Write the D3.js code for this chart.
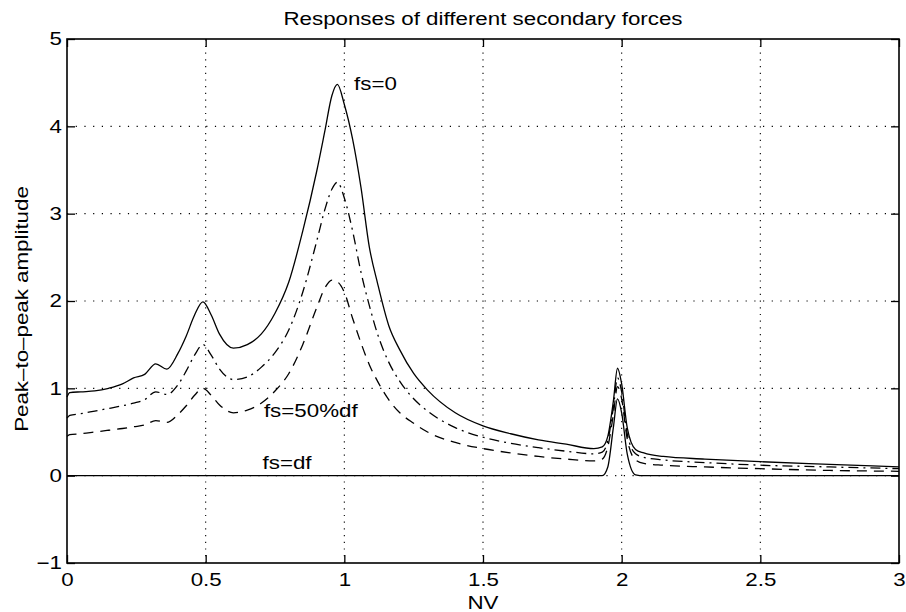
<!DOCTYPE html>
<html>
<head>
<meta charset="utf-8">
<script src="https://cdn.jsdelivr.net/npm/d3@7"></script>
<style>
  html, body { margin: 0; padding: 0; background: #fff; }
  svg text { font-family: "Liberation Sans", Arial, Helvetica, sans-serif; fill: #000; }
</style>
</head>
<body>
<svg id="chart" width="906" height="612"></svg>
<script>
// Frequency ratio samples shared by every response curve
const nv = [0, 0.01, 0.05, 0.1, 0.15, 0.2, 0.24, 0.28, 0.32, 0.36, 0.4, 0.43, 0.46, 0.49, 0.52, 0.55,
  0.6, 0.65, 0.7, 0.75, 0.8, 0.85, 0.9, 0.93, 0.955, 0.975, 1.0, 1.03, 1.06, 1.09, 1.12, 1.16, 1.2,
  1.25, 1.3, 1.4, 1.5, 1.6, 1.7, 1.8, 1.9, 1.93, 1.95, 1.97, 1.985, 2.0, 2.02, 2.05, 2.08, 2.15,
  2.3, 2.5, 2.75, 3.0];

// Peak-to-peak amplitude, fs = 0 (solid)
const ampFs0 = [0.90, 0.95, 0.96, 0.97, 1.00, 1.05, 1.12, 1.16, 1.28, 1.22, 1.40, 1.60, 1.84, 1.99, 1.84, 1.62,
  1.46, 1.50, 1.62, 1.86, 2.22, 2.80, 3.48, 3.95, 4.35, 4.48, 4.25, 3.85, 3.30, 2.62, 2.20, 1.72, 1.44,
  1.17, 0.98, 0.72, 0.57, 0.48, 0.41, 0.36, 0.31, 0.33, 0.45, 0.85, 1.23, 1.05, 0.55, 0.30, 0.26, 0.22,
  0.19, 0.16, 0.13, 0.10];

// Intermediate secondary force (dash-dot)
const ampFsMid = [0.66, 0.69, 0.71, 0.74, 0.77, 0.80, 0.83, 0.87, 0.96, 0.93, 1.04, 1.20, 1.38, 1.50, 1.38, 1.22,
  1.10, 1.13, 1.24, 1.41, 1.67, 2.10, 2.68, 3.05, 3.28, 3.36, 3.18, 2.80, 2.33, 1.95, 1.62, 1.30, 1.08,
  0.88, 0.74, 0.55, 0.44, 0.37, 0.32, 0.28, 0.25, 0.27, 0.40, 0.78, 1.12, 0.96, 0.48, 0.25, 0.21, 0.18,
  0.15, 0.12, 0.10, 0.08];

// fs = 50% df (dashed)
const ampFsHalf = [0.45, 0.47, 0.48, 0.50, 0.52, 0.54, 0.56, 0.58, 0.63, 0.61, 0.70, 0.80, 0.92, 1.00, 0.92, 0.81,
  0.72, 0.75, 0.83, 0.97, 1.17, 1.50, 1.92, 2.15, 2.24, 2.22, 2.10, 1.80, 1.52, 1.27, 1.08, 0.87, 0.72,
  0.60, 0.50, 0.38, 0.31, 0.26, 0.22, 0.19, 0.17, 0.19, 0.33, 0.70, 1.02, 0.88, 0.42, 0.18, 0.14, 0.12,
  0.10, 0.08, 0.06, 0.05];

// fs = df (solid, only the 2x response remains)
const ampFsDf = [0, 0, 0, 0, 0, 0, 0, 0, 0, 0, 0, 0, 0, 0, 0, 0,
  0, 0, 0, 0, 0, 0, 0, 0, 0, 0, 0, 0, 0, 0, 0, 0, 0,
  0, 0, 0, 0, 0, 0, 0, 0, 0, 0.10, 0.55, 0.88, 0.72, 0.25, 0.01, 0, 0,
  0, 0, 0, 0];

const xTicks = [0, 0.5, 1, 1.5, 2, 2.5, 3];
const yTicks = [-1, 0, 1, 2, 3, 4, 5];

const titleText = "Responses of different secondary forces";
const xLabelText = "NV";
const yLabelText = "Peak\u2013to\u2013peak amplitude";

// Curve annotations: [text, nv, amplitude]
const curveNotes = [
  ["fs=0", 1.035, 4.42],
  ["fs=50%df", 0.71, 0.67],
  ["fs=df", 0.705, 0.08]
];

const margin = { left: 67, right: 7, top: 39, bottom: 49 };
const W = 906, H = 612;
const svg = d3.select("#chart");

const x = d3.scaleLinear().domain([0, 3]).range([margin.left, W - margin.right]);
const y = d3.scaleLinear().domain([-1, 5]).range([H - margin.bottom, margin.top]);

const tickLen = 8;
const fontSize = 18;
const stretch = 1.24;   // the lettering is set wide

// widen a text element horizontally while keeping its anchor
function widen(sel) {
  sel.each(function () {
    const len = this.getComputedTextLength();
    if (len > 0) {
      d3.select(this).attr("textLength", len * stretch).attr("lengthAdjust", "spacingAndGlyphs");
    }
  });
}

// dotted grid
const grid = svg.append("g").attr("stroke", "#000").attr("stroke-width", 1.1);
grid.selectAll("line.gx").data(xTicks.slice(1, -1)).join("line")
  .attr("x1", d => x(d)).attr("x2", d => x(d))
  .attr("y1", y(-1)).attr("y2", y(5))
  .attr("stroke-dasharray", "1.2,5.5");
grid.selectAll("line.gy").data(yTicks.slice(1, -1)).join("line")
  .attr("y1", d => y(d)).attr("y2", d => y(d))
  .attr("x1", x(0)).attr("x2", x(3))
  .attr("stroke-dasharray", "1.2,7.5");

// axes with inward ticks on all four sides
const axB = d3.axisBottom(x).tickValues(xTicks).tickSize(-tickLen).tickPadding(10)
  .tickFormat(d3.format("~g"));
const axT = d3.axisTop(x).tickValues(xTicks).tickSize(-tickLen).tickFormat("");
const axL = d3.axisLeft(y).tickValues(yTicks).tickSize(-tickLen).tickPadding(5)
  .tickFormat(d => d < 0 ? "\u2212" + Math.abs(d) : d);
const axR = d3.axisRight(y).tickValues(yTicks).tickSize(-tickLen).tickFormat("");

function styleAxis(g) {
  g.select(".domain").remove();
  g.selectAll(".tick line").attr("stroke", "#000").attr("stroke-width", 1.3);
  g.selectAll(".tick text").attr("font-size", fontSize).attr("font-family", null)
    .attr("fill", "#000").call(widen);
}
svg.append("g").attr("transform", `translate(0,${y(-1)})`).call(axB).call(styleAxis);
svg.append("g").attr("transform", `translate(0,${y(5)})`).call(axT).call(styleAxis);
svg.append("g").attr("transform", `translate(${x(0)},0)`).call(axL).call(styleAxis);
svg.append("g").attr("transform", `translate(${x(3)},0)`).call(axR).call(styleAxis);

// frame
svg.append("rect")
  .attr("x", x(0)).attr("y", y(5))
  .attr("width", x(3) - x(0)).attr("height", y(-1) - y(5))
  .attr("fill", "none").attr("stroke", "#000").attr("stroke-width", 1.6);

// response curves
const series = [
  { values: ampFsDf, dash: null },
  { values: ampFsHalf, dash: "10,7" },
  { values: ampFsMid, dash: "10,5,2,5" },
  { values: ampFs0, dash: null }
];
const line = d3.line()
  .x(d => x(d[0])).y(d => y(d[1]))
  .curve(d3.curveMonotoneX);
svg.append("g").selectAll("path").data(series).join("path")
  .attr("d", s => line(nv.map((v, i) => [v, s.values[i]])))
  .attr("fill", "none").attr("stroke", "#000").attr("stroke-width", 1.3)
  .attr("stroke-dasharray", s => s.dash);

// curve annotations
svg.append("g").selectAll("text").data(curveNotes).join("text")
  .attr("x", d => x(d[1])).attr("y", d => y(d[2]))
  .attr("font-size", fontSize)
  .text(d => d[0])
  .call(widen);

// title and axis labels
svg.append("text").attr("x", (x(0) + x(3)) / 2).attr("y", 25)
  .attr("text-anchor", "middle").attr("font-size", fontSize).text(titleText).call(widen);
svg.append("text").attr("x", (x(0) + x(3)) / 2).attr("y", 609)
  .attr("text-anchor", "middle").attr("font-size", fontSize).text(xLabelText).call(widen);
svg.append("text")
  .attr("transform", `translate(28,${(y(-1) + y(5)) / 2 + 8}) rotate(-90)`)
  .attr("text-anchor", "middle").attr("font-size", fontSize).text(yLabelText).call(widen);
</script>
</body>
</html>
